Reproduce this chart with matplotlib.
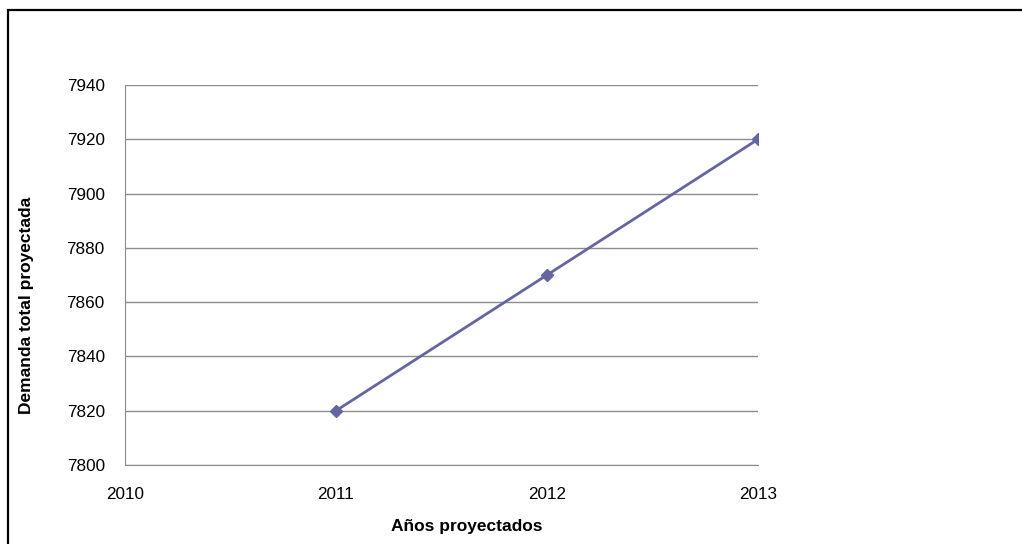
import matplotlib.pyplot as plt
from matplotlib.patches import Rectangle

# demanda proyectada por año
anios = [2011, 2012, 2013]
demanda = [7820, 7870, 7920]
y_ticks = [7800, 7820, 7840, 7860, 7880, 7900, 7920, 7940]
x_ticks = [2010, 2011, 2012, 2013]

plt.rcParams['font.family'] = ['Liberation Sans', 'DejaVu Sans']

fig = plt.figure(figsize=(10.22, 5.44), dpi=100)
ax = fig.add_axes([125 / 1022, 79 / 544, 633 / 1022, 380 / 544])

# marco exterior del gráfico
fig.patches.append(Rectangle((8 / 1022, -0.2), 1.5, (534 / 544) + 0.2,
                             transform=fig.transFigure, fill=False,
                             edgecolor='black', linewidth=1.6))

ax.plot(anios, demanda, color='#6565a2', linewidth=2, marker='D',
        markersize=6, zorder=3)

ax.set_xlim(2010, 2013)
ax.set_ylim(7800, 7940)
ax.set_xticks(x_ticks)
ax.set_yticks(y_ticks)
ax.grid(axis='y', color='#8c8c8c', linewidth=1)
ax.set_axisbelow(True)
for side in ['top', 'right']:
    ax.spines[side].set_visible(False)
for side in ['left', 'bottom']:
    ax.spines[side].set_color('#8c8c8c')
ax.tick_params(length=0, labelsize=12.3)
ax.tick_params(axis='y', pad=14.5)
ax.tick_params(axis='x', pad=15.5)

# títulos de los ejes
fig.text(27 / 1022, 1 - 305 / 544, 'Demanda total proyectada', rotation=90,
         fontsize=12.5, fontweight='bold', ha='center', va='center')
fig.text(467 / 1022, 1 - 527 / 544, 'Años proyectados',
         fontsize=12.5, fontweight='bold', ha='center', va='center')

plt.savefig('out.png', dpi=100)
